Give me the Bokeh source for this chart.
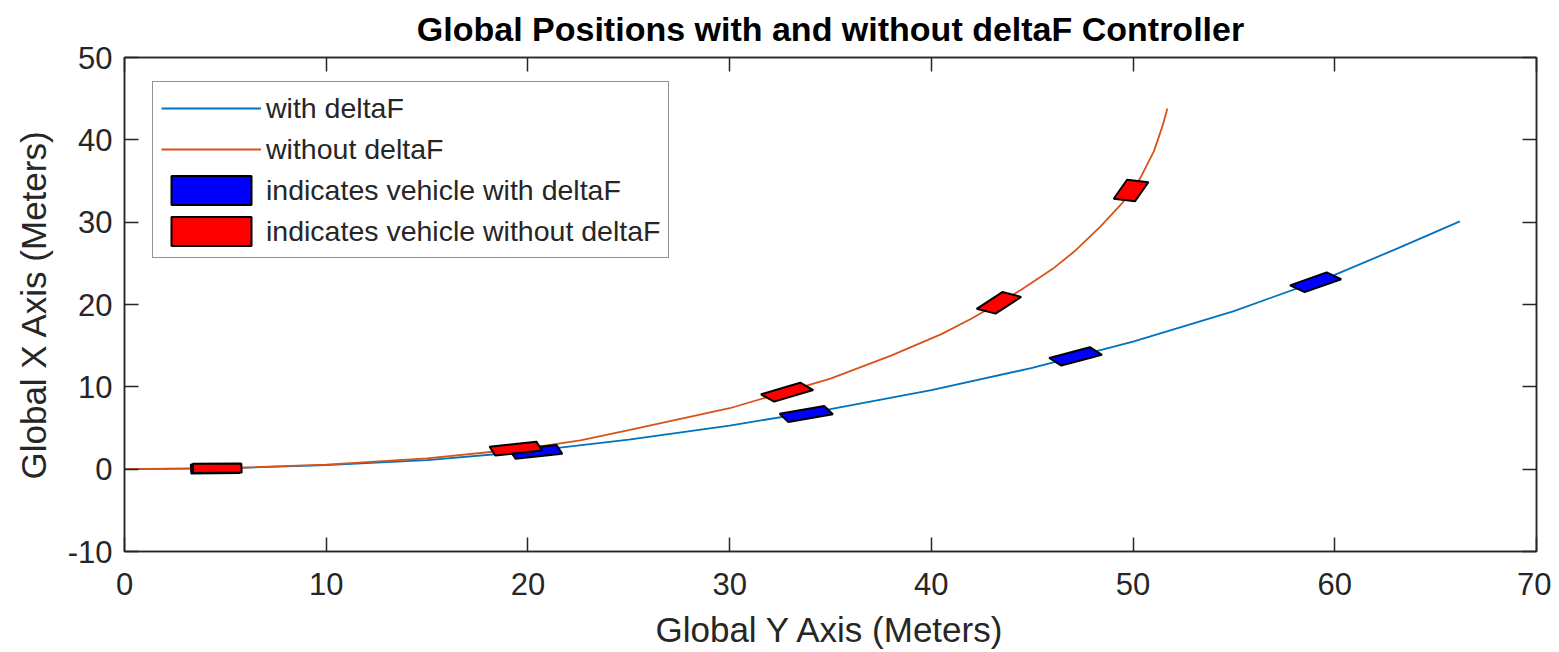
import numpy as np
from bokeh.plotting import figure
from bokeh.models import (Legend, LegendItem, LinearAxis, FixedTicker, Range1d)
from bokeh.embed import file_html
from bokeh.resources import INLINE

# ---- data ----
with_y = [0, 5, 10, 15, 20, 25, 30, 35, 40, 45, 50, 55, 60, 63, 66.2]
with_x = [0, 0.1, 0.5, 1.1, 2.15, 3.6, 5.3, 7.3, 9.6, 12.3, 15.5, 19.2, 23.6, 26.7, 30.1]

without_y = [0, 5, 10, 15, 20, 22.6, 25, 30, 35, 38, 40.5, 42, 44.4, 46, 47.07,
             48.39, 49.46, 50.37, 51.03, 51.45, 51.7]
without_x = [0, 0.12, 0.55, 1.3, 2.55, 3.5, 4.75, 7.4, 11.0, 13.8, 16.4, 18.3, 21.7,
             24.3, 26.4, 29.5, 32.3, 35.4, 38.6, 41.6, 43.8]

veh_with_y = [4.5, 20.4, 33.8, 47.15, 59.05]
veh_with_x = [0.05, 2.1, 6.7, 13.7, 22.7]
veh_with_heading = [1, 15, 23, 33, 41]          # degrees

veh_without_y = [4.6, 19.4, 32.85, 43.35, 49.9]
veh_without_x = [0.12, 2.5, 9.35, 20.2, 33.85]
veh_without_heading = [1, 15, 36, 58, 74]       # degrees

x_ticks = [0, 10, 20, 30, 40, 50, 60, 70]
y_ticks = [-10, 0, 10, 20, 30, 40, 50]

TITLE = "Global Positions with and without deltaF Controller"

VEH_LEN = 2.4
VEH_WID = 1.1

FONT = "Liberation Sans"
AX = "#262626"


def vehicle_polys(cx, cy, hd):
    xs, ys = [], []
    loc = np.array([[VEH_LEN / 2, VEH_WID / 2], [-VEH_LEN / 2, VEH_WID / 2],
                    [-VEH_LEN / 2, -VEH_WID / 2], [VEH_LEN / 2, -VEH_WID / 2]])
    for x0, y0, h in zip(cx, cy, hd):
        t = np.radians(h)
        c, s = np.cos(t), np.sin(t)
        xs.append(list(x0 + loc[:, 0] * c - loc[:, 1] * s))
        ys.append(list(y0 + loc[:, 0] * s + loc[:, 1] * c))
    return xs, ys


p = figure(width=1551, height=652, output_backend="svg", toolbar_location=None,
           x_range=Range1d(0, 70), y_range=Range1d(-10, 50),
           min_border_left=124, min_border_right=15, min_border_top=57,
           min_border_bottom=101)
p.title.text = TITLE
p.title.align = "center"
p.title.vertical_align = "top"
p.title.text_font = FONT
p.title.text_font_size = "34px"
p.title.text_font_style = "bold"
p.title.text_color = "#000000"
p.title.standoff = 16

p.xgrid.visible = False
p.ygrid.visible = False
p.outline_line_color = AX
p.outline_line_width = 1.5

for ax, ticks in ((p.xaxis[0], x_ticks), (p.yaxis[0], y_ticks)):
    ax.ticker = FixedTicker(ticks=ticks)
    ax.major_label_overrides = {t: str(t) for t in ticks}
    ax.major_tick_in = 14
    ax.major_tick_out = 0
    ax.minor_tick_line_color = None
    ax.axis_line_color = AX
    ax.axis_line_width = 1.5
    ax.major_tick_line_color = AX
    ax.major_tick_line_width = 1.5
    ax.major_label_text_font = FONT
    ax.major_label_text_font_size = "31px"
    ax.major_label_text_color = AX
    ax.axis_label_text_font = FONT
    ax.axis_label_text_font_size = "35px"
    ax.axis_label_text_font_style = "normal"
    ax.axis_label_text_color = AX

p.xaxis.axis_label = "Global Y Axis (Meters)"
p.yaxis.axis_label = "Global X Axis (Meters)"
p.xaxis.major_label_standoff = 21
p.xaxis.axis_label_standoff = 12
p.yaxis.major_label_standoff = 12
p.yaxis.axis_label_standoff = 12

for loc, ticks in (("right", y_ticks), ("above", x_ticks)):
    a = LinearAxis(ticker=FixedTicker(ticks=ticks))
    a.major_tick_in = 14
    a.major_tick_out = 0
    a.minor_tick_line_color = None
    a.axis_line_color = AX
    a.axis_line_width = 1.5
    a.major_tick_line_color = AX
    a.major_tick_line_width = 1.5
    a.major_label_text_font_size = "0px"
    a.major_label_standoff = 0
    a.major_label_text_alpha = 0
    p.add_layout(a, loc)

r_with = p.line(with_y, with_x, line_color="#0072BD", line_width=1.8)
r_without = p.line(without_y, without_x, line_color="#D95319", line_width=1.8)

bx, by = vehicle_polys(veh_with_y, veh_with_x, veh_with_heading)
rx, ry = vehicle_polys(veh_without_y, veh_without_x, veh_without_heading)
r_vb = p.patches(bx, by, fill_color="#0000FF", line_color="#000000", line_width=2)
r_vr = p.patches(rx, ry, fill_color="#FF0000", line_color="#000000", line_width=2)

legend = Legend(items=[
    LegendItem(label="with deltaF", renderers=[r_with]),
    LegendItem(label="without deltaF", renderers=[r_without]),
    LegendItem(label="indicates vehicle with deltaF", renderers=[r_vb]),
    LegendItem(label="indicates vehicle without deltaF", renderers=[r_vr]),
], location=(28, 293), margin=0)
legend.glyph_width = 100
legend.glyph_height = 36
legend.label_height = 36
legend.spacing = 5
legend.padding = 8
legend.label_standoff = 5
legend.label_text_font = FONT
legend.label_text_font_size = "28.5px"
legend.label_text_color = AX
legend.border_line_color = AX
legend.border_line_width = 1.5
legend.background_fill_color = "white"
legend.background_fill_alpha = 1
p.add_layout(legend, "center")

open("out.html", "w").write(file_html(p, INLINE))
